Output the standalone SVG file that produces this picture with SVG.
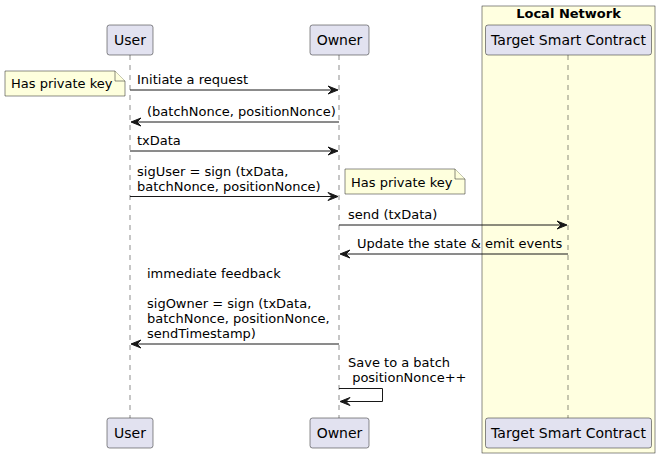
<svg xmlns="http://www.w3.org/2000/svg" width="660" height="458" viewBox="0 0 660 458">
<style>
text{font-family:"DejaVu Sans","Liberation Sans",sans-serif;fill:#000}
.m{font-size:13px}
.p{font-size:14px;text-anchor:middle}
.b{font-size:13px;font-weight:bold;text-anchor:middle}
.part{fill:#E2E2F0;stroke:#181818;stroke-width:0.5}
.life{stroke:#181818;stroke-width:0.5;stroke-dasharray:5,5;fill:none}
.note{fill:#FEFFDD;stroke:#181818;stroke-width:0.5}
.msg{stroke:#181818;stroke-width:1;fill:none}
.head{fill:#181818;stroke:#181818;stroke-width:1}
</style>
<rect id="box-local" x="482" y="6" width="173" height="447" fill="#FFFFE0" stroke="#181818" stroke-width="0.5"/>
<text class="b" x="568.5" y="18">Local Network</text>
<g id="lifelines">
<line class="life" x1="130" y1="55" x2="130" y2="418"/>
<line class="life" x1="339" y1="55" x2="339" y2="418"/>
<line class="life" x1="568" y1="55" x2="568" y2="418"/>
</g>
<g id="user">
<rect class="part" x="107" y="25" width="46" height="30" rx="2.5"/>
<text class="p" x="130" y="45">User</text>
<rect class="part" x="107" y="418" width="46" height="30" rx="2.5"/>
<text class="p" x="130" y="438">User</text>
</g>
<g id="owner">
<rect class="part" x="310" y="25" width="59" height="30" rx="2.5"/>
<text class="p" x="339.5" y="45">Owner</text>
<rect class="part" x="310" y="418" width="59" height="30" rx="2.5"/>
<text class="p" x="339.5" y="438">Owner</text>
</g>
<g id="target">
<rect class="part" x="485.5" y="25" width="166" height="30" rx="2.5"/>
<text class="p" x="568.5" y="45">Target Smart Contract</text>
<rect class="part" x="485.5" y="418" width="166" height="30" rx="2.5"/>
<text class="p" x="568.5" y="438">Target Smart Contract</text>
</g>
<g id="note1">
<path class="note" d="M5,71 L115,71 L125,81 L125,96 L5,96 Z"/>
<path class="note" d="M115,71 L115,81 L125,81"/>
<text class="m" x="11" y="88">Has private key</text>
</g>
<g id="note2">
<path class="note" d="M345,169 L455,169 L465,179 L465,194 L345,194 Z"/>
<path class="note" d="M455,169 L455,179 L465,179"/>
<text class="m" x="351" y="187">Has private key</text>
</g>
<g id="connectors">
<line class="msg" x1="130" y1="90" x2="337" y2="90"/>
<polygon class="head" points="328,86 338,90 328,94 332,90"/>
<text class="m" x="137" y="84">Initiate a request</text>

<line class="msg" x1="132" y1="122" x2="339" y2="122"/>
<polygon class="head" points="141,118 131,122 141,126 137,122"/>
<text class="m" x="147" y="116">(batchNonce, positionNonce)</text>

<line class="msg" x1="130" y1="151" x2="337" y2="151"/>
<polygon class="head" points="328,147 338,151 328,155 332,151"/>
<text class="m" x="137" y="145">txData</text>

<line class="msg" x1="130" y1="196.5" x2="337" y2="196.5"/>
<polygon class="head" points="328,192.5 338,196.5 328,200.5 332,196.5"/>
<text class="m" x="137" y="175.5">sigUser = sign (txData,</text>
<text class="m" x="137" y="190.5">batchNonce, positionNonce)</text>

<line class="msg" x1="339" y1="225" x2="566" y2="225"/>
<polygon class="head" points="557,221 567,225 557,229 561,225"/>
<text class="m" x="348" y="219">send (txData)</text>

<line class="msg" x1="341" y1="254" x2="568" y2="254"/>
<polygon class="head" points="350,250 340,254 350,258 346,254"/>
<text class="m" x="357" y="248">Update the state &amp; emit events</text>

<line class="msg" x1="132" y1="344" x2="339" y2="344"/>
<polygon class="head" points="141,340 131,344 141,348 137,344"/>
<text class="m" x="147" y="278">immediate feedback</text>
<text class="m" x="147" y="308">sigOwner = sign (txData,</text>
<text class="m" x="147" y="323">batchNonce, positionNonce,</text>
<text class="m" x="147" y="338">sendTimestamp)</text>

<polyline class="msg" points="339,388.5 382.5,388.5 382.5,401.5 341,401.5"/>
<polygon class="head" points="350,397.5 340,401.5 350,405.5 346,401.5"/>
<text class="m" x="348" y="367">Save to a batch</text>
<text class="m" x="348" y="382" xml:space="preserve"> positionNonce++</text>
</g>
</svg>
